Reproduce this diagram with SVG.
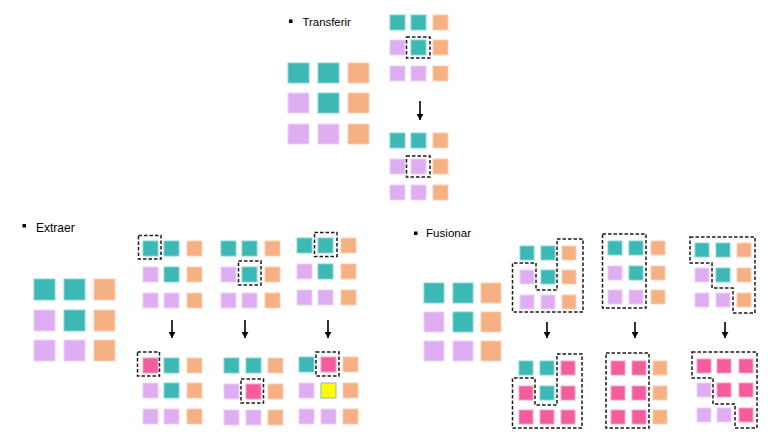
<svg xmlns="http://www.w3.org/2000/svg" width="773" height="434" viewBox="0 0 773 434">
<style>
.t{fill:#3CB9B4;stroke:#86D6D2;stroke-width:1}
.p{fill:#DFAEF2;stroke:#EDD2F7;stroke-width:1}
.o{fill:#F5B183;stroke:#F9D0B5;stroke-width:1}
.k{fill:#F35C9D;stroke:#F8A3C6;stroke-width:1}
.y{fill:#FFFF00;stroke:#8FB3C2;stroke-width:1}
.d{fill:none;stroke:#1a1a1a;stroke-width:1.5;stroke-dasharray:3.5 2}
.lbl{font-family:"Liberation Sans",Arial,sans-serif;fill:#000}
.a{stroke:#000;stroke-width:1.6;fill:none;marker-end:url(#ah)}
</style>
<defs>
<marker id="ah" markerUnits="userSpaceOnUse" markerWidth="7" markerHeight="7" refX="6" refY="3.5" orient="auto" viewBox="0 0 7 7">
<path d="M0,0 L6,3.5 L0,7 Z" fill="#000"/>
</marker>
</defs>
<rect width="773" height="434" fill="#fff"/>

<!-- Labels -->
<g id="label-transferir">
<rect x="289" y="19.5" width="3.5" height="3.5" fill="#000"/>
<text class="lbl" x="302.5" y="25.5" font-size="11.4">Transferir</text>
</g>
<g id="label-extraer">
<rect x="22.5" y="224" width="3.5" height="3.5" fill="#000"/>
<text class="lbl" x="36" y="231.5" font-size="12">Extraer</text>
</g>
<g id="label-fusionar">
<rect x="414" y="231.5" width="3.5" height="3.5" fill="#000"/>
<text class="lbl" x="426" y="237" font-size="11.6">Fusionar</text>
</g>

<!-- Transferir -->
<g id="transfer-big">
<rect class="t" x="288" y="63" width="21" height="20"/><rect class="t" x="318" y="63" width="21" height="20"/><rect class="o" x="348" y="63" width="21" height="20"/>
<rect class="p" x="288" y="93" width="21" height="20"/><rect class="t" x="318" y="93" width="21" height="20"/><rect class="o" x="348" y="93" width="21" height="20"/>
<rect class="p" x="288" y="124" width="21" height="20"/><rect class="p" x="318" y="124" width="21" height="20"/><rect class="o" x="348" y="124" width="21" height="20"/>
</g>
<g id="transfer-before">
<rect class="t" x="390" y="15" width="15" height="15"/><rect class="t" x="411" y="15" width="15" height="15"/><rect class="o" x="433" y="15" width="15" height="15"/>
<rect class="p" x="390" y="40" width="15" height="15"/><rect class="t" x="411" y="40" width="15" height="15"/><rect class="o" x="433" y="40" width="15" height="15"/>
<rect class="p" x="390" y="66" width="15" height="15"/><rect class="p" x="411" y="66" width="15" height="15"/><rect class="o" x="433" y="66" width="15" height="15"/>
<rect class="d" x="406.5" y="37" width="23.5" height="21"/>
</g>
<g id="transfer-after">
<rect class="t" x="390" y="133" width="15" height="15"/><rect class="t" x="411" y="133" width="15" height="15"/><rect class="o" x="433" y="133" width="15" height="15"/>
<rect class="p" x="390" y="159" width="15" height="15"/><rect class="p" x="411" y="159" width="15" height="15"/><rect class="o" x="433" y="159" width="15" height="15"/>
<rect class="p" x="390" y="185" width="15" height="15"/><rect class="p" x="411" y="185" width="15" height="15"/><rect class="o" x="433" y="185" width="15" height="15"/>
<rect class="d" x="406.5" y="156" width="23.5" height="21"/>
</g>

<!-- Extraer -->
<g id="extract-big">
<rect class="t" x="34" y="279" width="21" height="21"/><rect class="t" x="64" y="279" width="21" height="21"/><rect class="o" x="94" y="279" width="21" height="21"/>
<rect class="p" x="34" y="310" width="21" height="21"/><rect class="t" x="64" y="310" width="21" height="21"/><rect class="o" x="94" y="310" width="21" height="21"/>
<rect class="p" x="34" y="340" width="21" height="21"/><rect class="p" x="64" y="340" width="21" height="21"/><rect class="o" x="94" y="340" width="21" height="21"/>
</g>
<g id="extract-1-before">
<rect class="t" x="143" y="241" width="15" height="15"/><rect class="t" x="164" y="241" width="15" height="15"/><rect class="o" x="187" y="241" width="15" height="15"/>
<rect class="p" x="143" y="267" width="15" height="15"/><rect class="t" x="164" y="267" width="15" height="15"/><rect class="o" x="187" y="267" width="15" height="15"/>
<rect class="p" x="143" y="293" width="15" height="15"/><rect class="p" x="164" y="293" width="15" height="15"/><rect class="o" x="187" y="293" width="15" height="15"/>
<rect class="d" x="138.5" y="235.5" width="22.5" height="23.5"/>
</g>
<g id="extract-2-before">
<rect class="t" x="221" y="241" width="15" height="15"/><rect class="t" x="242" y="241" width="15" height="15"/><rect class="o" x="265" y="241" width="15" height="15"/>
<rect class="p" x="221" y="267" width="15" height="15"/><rect class="t" x="242" y="267" width="15" height="15"/><rect class="o" x="265" y="267" width="15" height="15"/>
<rect class="p" x="221" y="293" width="15" height="15"/><rect class="p" x="242" y="293" width="15" height="15"/><rect class="o" x="265" y="293" width="15" height="15"/>
<rect class="d" x="238.5" y="261" width="22.5" height="24"/>
</g>
<g id="extract-3-before">
<rect class="t" x="297" y="238" width="15" height="15"/><rect class="t" x="318" y="238" width="15" height="15"/><rect class="o" x="341" y="238" width="15" height="15"/>
<rect class="p" x="297" y="264" width="15" height="15"/><rect class="t" x="318" y="264" width="15" height="15"/><rect class="o" x="341" y="264" width="15" height="15"/>
<rect class="p" x="297" y="290" width="15" height="15"/><rect class="p" x="318" y="290" width="15" height="15"/><rect class="o" x="341" y="290" width="15" height="15"/>
<rect class="d" x="314.5" y="232.5" width="22.5" height="24"/>
</g>
<g id="extract-1-after">
<rect class="k" x="143" y="358" width="15" height="15"/><rect class="t" x="164" y="358" width="15" height="15"/><rect class="o" x="187" y="358" width="15" height="15"/>
<rect class="p" x="143" y="383" width="15" height="15"/><rect class="t" x="164" y="383" width="15" height="15"/><rect class="o" x="187" y="383" width="15" height="15"/>
<rect class="p" x="143" y="409" width="15" height="15"/><rect class="p" x="164" y="409" width="15" height="15"/><rect class="o" x="187" y="409" width="15" height="15"/>
<rect class="d" x="137.5" y="352" width="22" height="24"/>
</g>
<g id="extract-2-after">
<rect class="t" x="224" y="358" width="15" height="15"/><rect class="t" x="246" y="358" width="15" height="15"/><rect class="o" x="268" y="358" width="15" height="15"/>
<rect class="p" x="224" y="384" width="15" height="15"/><rect class="k" x="246" y="384" width="15" height="15"/><rect class="o" x="268" y="384" width="15" height="15"/>
<rect class="p" x="224" y="410" width="15" height="15"/><rect class="p" x="246" y="410" width="15" height="15"/><rect class="o" x="268" y="410" width="15" height="15"/>
<rect class="d" x="241" y="379" width="22.5" height="24"/>
</g>
<g id="extract-3-after">
<rect class="t" x="299" y="357" width="15" height="15"/><rect class="k" x="321" y="357" width="15" height="15"/><rect class="o" x="343" y="357" width="15" height="15"/>
<rect class="p" x="299" y="383" width="15" height="15"/><rect class="y" x="321" y="383" width="15" height="15"/><rect class="o" x="343" y="383" width="15" height="15"/>
<rect class="p" x="299" y="409" width="15" height="15"/><rect class="p" x="321" y="409" width="15" height="15"/><rect class="o" x="343" y="409" width="15" height="15"/>
<rect class="d" x="316" y="352" width="23" height="24"/>
</g>

<!-- Fusionar -->
<g id="merge-big">
<rect class="t" x="424" y="283" width="20" height="20"/><rect class="t" x="453" y="283" width="20" height="20"/><rect class="o" x="481" y="283" width="20" height="20"/>
<rect class="p" x="424" y="312" width="20" height="20"/><rect class="t" x="453" y="312" width="20" height="20"/><rect class="o" x="481" y="312" width="20" height="20"/>
<rect class="p" x="424" y="341" width="20" height="20"/><rect class="p" x="453" y="341" width="20" height="20"/><rect class="o" x="481" y="341" width="20" height="20"/>
</g>
<g id="merge-1-before">
<rect class="t" x="520" y="246" width="14" height="14"/><rect class="t" x="541" y="246" width="14" height="14"/><rect class="o" x="562" y="246" width="14" height="14"/>
<rect class="p" x="520" y="270" width="14" height="14"/><rect class="t" x="541" y="270" width="14" height="14"/><rect class="o" x="562" y="270" width="14" height="14"/>
<rect class="p" x="520" y="295" width="14" height="14"/><rect class="p" x="541" y="295" width="14" height="14"/><rect class="o" x="562" y="295" width="14" height="14"/>
<path class="d" d="M557,239 H583 V312 H512.5 V263 H536 V290 H557 Z"/>
</g>
<g id="merge-2-before">
<rect class="t" x="608" y="241" width="14" height="14"/><rect class="t" x="629" y="241" width="14" height="14"/><rect class="o" x="651" y="241" width="14" height="14"/>
<rect class="p" x="608" y="266" width="14" height="14"/><rect class="t" x="629" y="266" width="14" height="14"/><rect class="o" x="651" y="266" width="14" height="14"/>
<rect class="p" x="608" y="290" width="14" height="14"/><rect class="p" x="629" y="290" width="14" height="14"/><rect class="o" x="651" y="290" width="14" height="14"/>
<rect class="d" x="602.5" y="234" width="43.5" height="74"/>
</g>
<g id="merge-3-before">
<rect class="t" x="695" y="243" width="14" height="14"/><rect class="t" x="716" y="243" width="14" height="14"/><rect class="o" x="737" y="243" width="14" height="14"/>
<rect class="p" x="695" y="268" width="14" height="14"/><rect class="t" x="716" y="268" width="14" height="14"/><rect class="o" x="737" y="268" width="14" height="14"/>
<rect class="p" x="695" y="293" width="14" height="14"/><rect class="p" x="716" y="293" width="14" height="14"/><rect class="o" x="737" y="293" width="14" height="14"/>
<path class="d" d="M690,237 H755 V313 H733 V288 H712 V263 H690 Z"/>
</g>
<g id="merge-1-after">
<rect class="t" x="519" y="361" width="14" height="14"/><rect class="t" x="540" y="361" width="14" height="14"/><rect class="k" x="561" y="361" width="14" height="14"/>
<rect class="k" x="519" y="386" width="14" height="14"/><rect class="t" x="540" y="386" width="14" height="14"/><rect class="k" x="561" y="386" width="14" height="14"/>
<rect class="k" x="519" y="410" width="14" height="14"/><rect class="k" x="540" y="410" width="14" height="14"/><rect class="k" x="561" y="410" width="14" height="14"/>
<path class="d" d="M557,354 H582 V428 H512.5 V378 H535 V405 H557 Z"/>
</g>
<g id="merge-2-after">
<rect class="k" x="611" y="361" width="14" height="14"/><rect class="k" x="632" y="361" width="14" height="14"/><rect class="o" x="653" y="361" width="14" height="14"/>
<rect class="k" x="611" y="386" width="14" height="14"/><rect class="k" x="632" y="386" width="14" height="14"/><rect class="o" x="653" y="386" width="14" height="14"/>
<rect class="k" x="611" y="410" width="14" height="14"/><rect class="k" x="632" y="410" width="14" height="14"/><rect class="o" x="653" y="410" width="14" height="14"/>
<rect class="d" x="606" y="353" width="43" height="75"/>
</g>
<g id="merge-3-after">
<rect class="k" x="697" y="359" width="14" height="14"/><rect class="k" x="717" y="359" width="14" height="14"/><rect class="k" x="739" y="359" width="14" height="14"/>
<rect class="p" x="697" y="383" width="14" height="14"/><rect class="k" x="717" y="383" width="14" height="14"/><rect class="k" x="739" y="383" width="14" height="14"/>
<rect class="p" x="697" y="408" width="14" height="14"/><rect class="p" x="717" y="408" width="14" height="14"/><rect class="k" x="739" y="408" width="14" height="14"/>
<path class="d" d="M692,352 H757 V428 H735 V404 H713 V378 H692 Z"/>
</g>

<!-- Connectors -->
<g id="connectors">
<line class="a" x1="420" y1="101" x2="420" y2="120"/>
<line class="a" x1="172" y1="320" x2="172" y2="338"/>
<line class="a" x1="245" y1="320" x2="245" y2="338"/>
<line class="a" x1="328" y1="320" x2="328" y2="338"/>
<line class="a" x1="547" y1="322" x2="547" y2="338"/>
<line class="a" x1="635" y1="322" x2="635" y2="338"/>
<line class="a" x1="725" y1="322" x2="725" y2="338"/>
</g>
</svg>
